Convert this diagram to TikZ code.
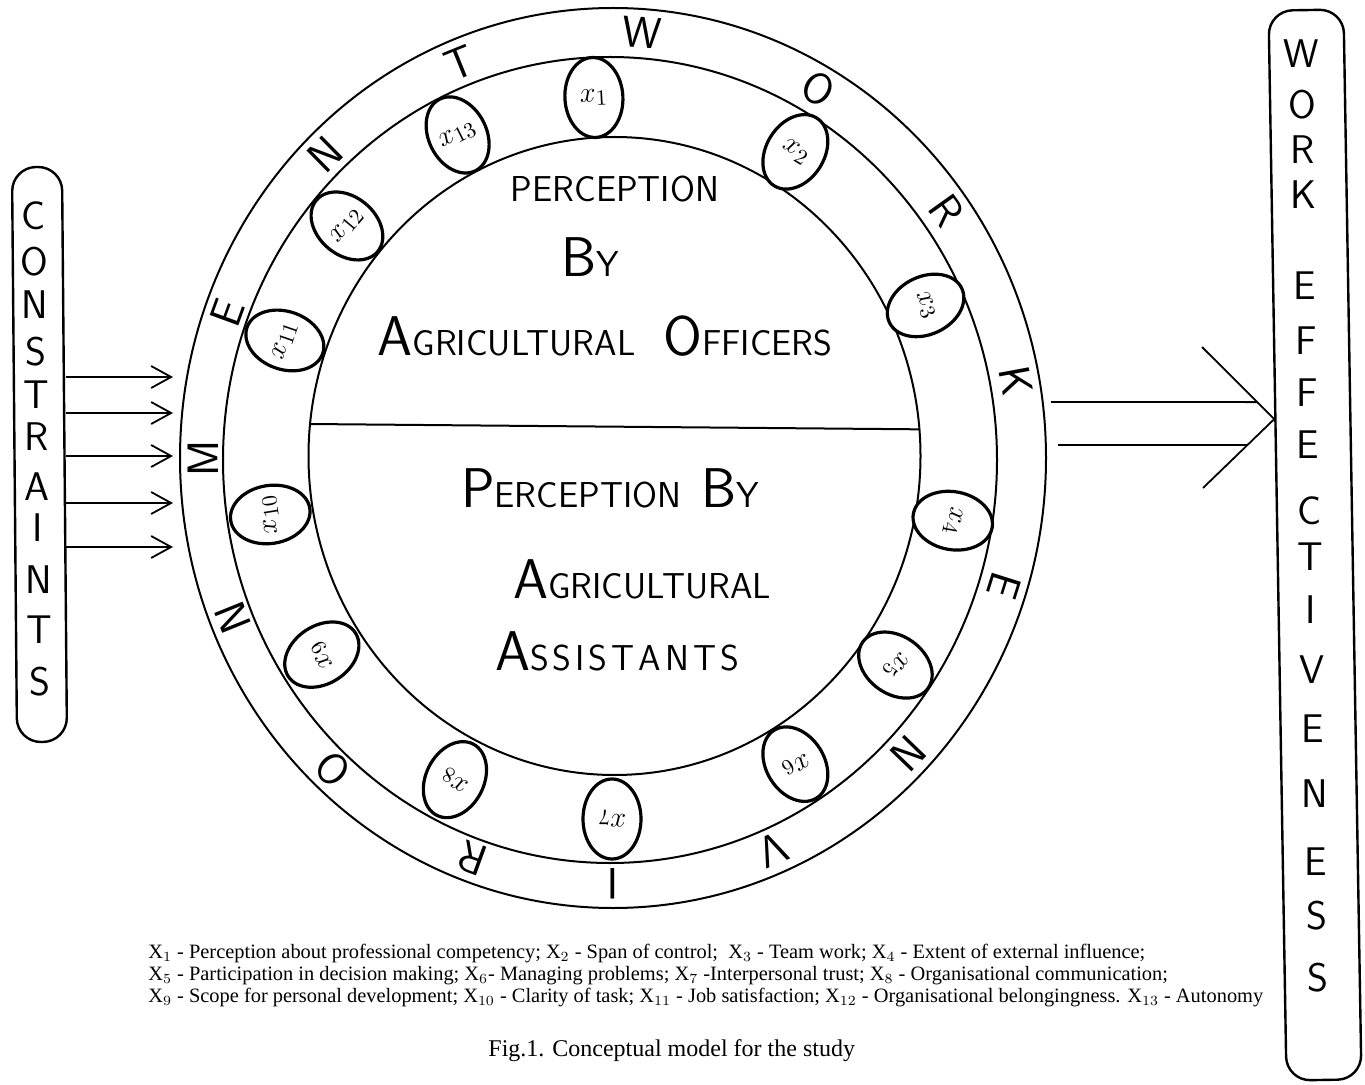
\documentclass[tikz,border=0pt]{standalone}
\usepackage{fontspec}
\newfontfamily\legendfont{Liberation Serif}
\usetikzlibrary{shapes.geometric, positioning, arrows.meta, calc}

\tikzset{
  ring/.style={draw, ellipse, line width=1pt, inner sep=0pt, outer sep=0pt},
  bubble/.style={draw, ellipse, fill=white, line width=1.6pt, inner sep=0pt,
    minimum width=29pt, minimum height=40pt, font=\fontsize{15}{15}\selectfont},
  ringletter/.style={font=\fontsize{22}{22}\selectfont\sffamily, inner sep=0pt},
  barletter/.style={font=\fontsize{20}{20}\selectfont\sffamily, inner sep=0pt},
  centertext/.style={font=\fontsize{18}{18}\selectfont\sffamily, inner sep=0pt, anchor=base},
  sidebox/.style={draw, rounded corners=12pt, line width=1.2pt, inner sep=0pt},
  legend/.style={font=\legendfont\fontsize{10.2}{12}\selectfont, inner sep=0pt, anchor=base west},
  >={Straight Barb[length=10pt,width=11pt]}
}
\newcommand{\initial}[2]{{\fontsize{28}{28}\selectfont #1}#2}

\begin{document}
\begin{tikzpicture}[x=0.5pt, y=-0.5pt]
\useasboundingbox (0,0) rectangle (1365,1085);

% the three rings
\node[ring, minimum width=433pt, minimum height=450pt] (outer) at (613,458) {};
\node[ring, minimum width=387pt, minimum height=403pt] (middle) at (610,460) {};
\node[ring, minimum width=306pt, minimum height=319pt] (inner) at (614.5,456) {};
\draw[line width=1pt] (inner.174) -- (inner.5);

% centre texts
\node[centertext] (off1) at (615,202) {PERCEPTION};
\node[centertext] (off2) at (590,277) {\initial{B}{Y}};
\node[centertext] (off3) at (605,356) {\initial{A}{GRICULTURAL}\hspace{14pt}\initial{O}{FFICERS}};
\node[centertext] (ass1) at (610,507) {\initial{P}{ERCEPTION}\hspace{10pt}\initial{B}{Y}};
\node[centertext] (ass2) at (642,598) {\initial{A}{GRICULTURAL}};
\node[centertext] (ass3) at (617,670) {\initial{A}{S\kern2pt S\kern2pt I\kern2pt S\kern2pt T\kern2pt A\kern2pt N\kern2pt T\kern2pt S}};

% work environment letters
\foreach \l/\a [count=\i] in {W/86, O/60, R/35.5, K/10.5, E/-17.5, N/-44, V/-67, I/-90,
    R/-110, O/-133, N/-158, M/180, E/160, N/134.5, T/112}
  \node[ringletter, rotate=\a-90] (env\i) at ({613+410*cos(\a)}, {458-426*sin(\a)}) {\l};

% variables
\foreach \a/\n in {93/1, 58/2, 25/3, -10/4, -35/5, -58/6, -90/7, -117/8, -147/9,
    -171/10, 161/11, 140/12, 116.5/13}
  \node[bubble, rotate=\a-90] (x\n) at ({612+346*cos(\a)}, {458-361*sin(\a)}) {$x_{\n}$};

% constraints
\node[sidebox, minimum width=25pt, minimum height=287.5pt, rotate=0.5] (constraints) at (39.5,454.5) {};
\foreach \l/\y [count=\i] in {C/216, O/262, N/305, S/352, T/395, R/437, A/487, I/528, N/580, T/630, S/682}
  \node[barletter] (con\i) at ({34+0.012*(\y-216)}, \y) {\l};
\foreach \y [count=\i] in {377,413,456,503,547} {
  \coordinate (in\i) at (173,\y);
  \draw[->, line width=0.9pt] (in\i -| constraints.east) -- (in\i);
}

% work effectiveness
\node[sidebox, minimum width=37.5pt, minimum height=535pt, rotate=0.96] (effect) at (1315,545) {};
\foreach \l/\y [count=\i] in {W/54, O/105, R/150, K/195, E/286, F/341, F/393, E/445, C/511,
    T/557, I/610, V/670, E/729, N/794, E/862, S/916, S/978}
  \node[barletter] (eff\i) at ({1300+0.018*\y}, \y) {\l};
\coordinate (tip) at ($(effect.north west)!0.382!(effect.south west)$);
\coordinate (barb1) at (1202,347);
\coordinate (barb2) at (1203,488);
\coordinate (out1) at (1051,402);
\coordinate (out2) at (1058,445);
\draw[line width=0.9pt] (barb1) -- (tip) -- (barb2);
\draw[line width=0.9pt] (out1) -- ($(barb1)!0.764!(tip)$);
\draw[line width=0.9pt] (out2) -- ($(barb2)!0.623!(tip)$);

% key
\node[legend] (key1) at (148,958) {X$_1$ - Perception about professional competency; X$_2$ - Span of control;\enspace X$_3$ - Team work; X$_4$ - Extent of external influence;};
\node[legend] (key2) at (148,980) {X$_5$ - Participation in decision making; X$_6$- Managing problems; X$_7$ -Interpersonal trust; X$_8$ - Organisational communication;};
\node[legend] (key3) at (148,1002) {X$_9$ - Scope for personal development; X$_{10}$ - Clarity of task; X$_{11}$ - Job satisfaction; X$_{12}$ - Organisational belongingness. X$_{13}$ - Autonomy};
\node[legend, font=\legendfont\fontsize{12}{14}\selectfont] (caption) at (488,1056) {Fig.1. Conceptual model for the study};
\end{tikzpicture}
\end{document}
